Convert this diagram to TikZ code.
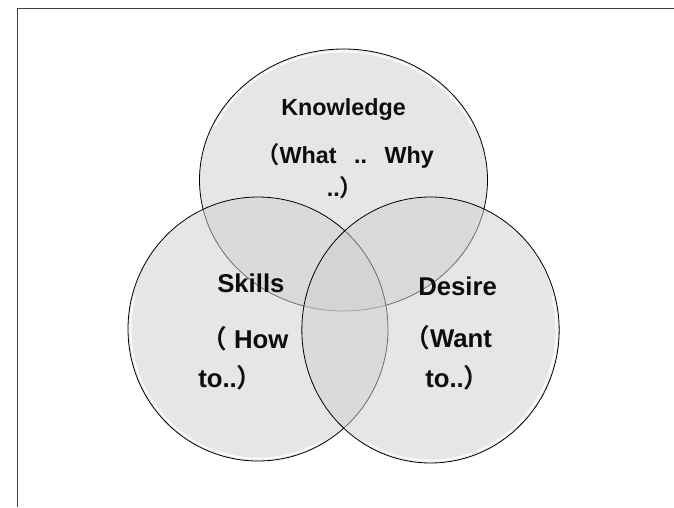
\documentclass[tikz,border=0pt]{standalone}
\usepackage{fontspec}
\setmainfont{Liberation Sans}
\newfontfamily\cjk{Noto Sans CJK SC}[BoldFont={* Bold}]
\usetikzlibrary{shapes.geometric}
\newcommand{\lp}{{\cjk （}}
\newcommand{\rp}{{\cjk ）}}

\begin{document}
\begin{tikzpicture}
[x=.75pt, y=-.75pt,
 venn/.style={ellipse, draw=black, line width=.6pt, fill=black!19, fill opacity=.52, inner sep=0pt},
 glow/.style={white, line width=1.4pt, opacity=.85},
 word/.style={inner sep=0pt, anchor=base west, text=black!95, font=\bfseries\fontsize{19.3}{23}\selectfont},
 headline/.style={word, anchor=base, font=\bfseries\fontsize{17.5}{21}\selectfont}]
\useasboundingbox (0,0) rectangle (674,507);
\draw [black!75, line width=.75pt] (674,8) -- (17,8) -- (17,507);

% the three sets
\node (know) at (343.5,180) [venn, minimum width=216pt, minimum height=196.5pt] {};
\node (skill) at (258,329) [venn, minimum width=195pt, minimum height=198pt] {};
\node (want) at (430.5,330) [venn, minimum width=193pt, minimum height=199.5pt] {};
% light rim on the outer sides
\draw [glow] (know.center) ++(205:141.5 and 128.5) arc [start angle=205, end angle=335, x radius=141.5, y radius=128.5];
\draw [glow] (skill.center) ++(60:127.5 and 129.5) arc [start angle=60, end angle=195, x radius=127.5, y radius=129.5];
\draw [glow] (want.center) ++(-15:126 and 130.5) arc [start angle=-15, end angle=120, x radius=126, y radius=130.5];

% labels
\node (know1) at (343.5,115) [headline] {Knowledge};
\node (know2) at (345,163) [headline] {\lp What\hspace{.75em}..\hspace{.75em}Why};
\node (know3) at (345,196) [headline] {..\rp};

\node (skill1) at (217,292) [word] {Skills};
\node (skill2) at (201,348) [word] {\lp\ How};
\node (skill3) at (198,387) [word] {to..\rp};

\node (want1) at (418,295) [word] {Desire};
\node (want2) at (404,347) [word] {\lp Want};
\node (want3) at (425,387) [word] {to..\rp};
\end{tikzpicture}
\end{document}
